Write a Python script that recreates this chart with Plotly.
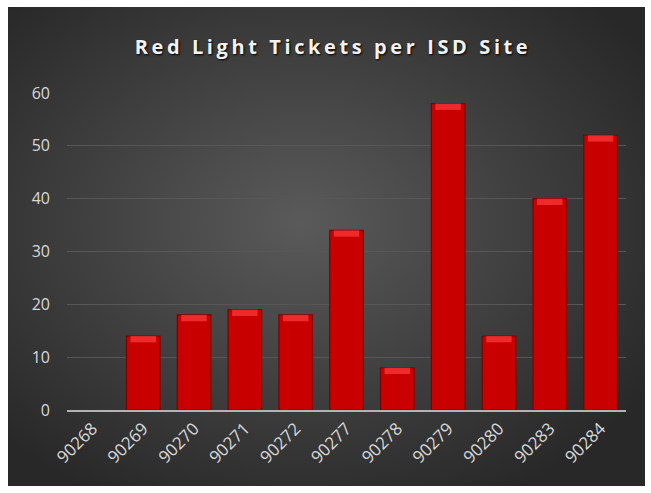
import base64
import plotly.graph_objects as go

categories = ["90268", "90269", "90270", "90271", "90272", "90277",
              "90278", "90279", "90280", "90283", "90284"]
tickets = [0, 14, 18, 19, 18, 34, 8, 58, 14, 40, 52]
y_ticks = [0, 10, 20, 30, 40, 50, 60]
title_text = "Red Light Tickets per ISD Site"

W, H = 651, 493
L, R, T, B = 67, 25, 93, 83
pw, ph = W - L - R, H - T - B

# chart-area background (radial gradient) as an SVG image
svg = """<svg xmlns='http://www.w3.org/2000/svg' width='638' height='479' preserveAspectRatio='none'>
<defs><radialGradient id='g' cx='0.46' cy='0.45' r='0.65'>
<stop offset='0' stop-color='#5a5a5a'/>
<stop offset='1' stop-color='#282828'/>
</radialGradient></defs>
<rect width='638' height='479' fill='url(#g)'/></svg>"""
src = "data:image/svg+xml;base64," + base64.b64encode(svg.encode()).decode()

bx0, bx1, by0, by1 = 8, 645, 7, 486
img_x = (bx0 - L) / pw
img_y = (H - B - by0) / ph
img_sx = (bx1 - bx0) / pw
img_sy = (by1 - by0) / ph

fig = go.Figure()
fig.add_trace(go.Bar(
    x=categories, y=tickets,
    marker=dict(color="#c80000",
                line=dict(color="#7e0000",
                          width=[0 if v == 0 else 1.2 for v in tickets])),
    width=0.66, hoverinfo="x+y",
))
# top bevel highlight
cap = [min(v, 1.2) for v in tickets]
fig.add_trace(go.Bar(
    x=categories, y=cap, base=[v - c for v, c in zip(tickets, cap)],
    marker=dict(color="rgba(255,60,60,0.7)", line=dict(width=0)),
    width=0.5, hoverinfo="skip",
))

fig.update_layout(
    width=W, height=H,
    margin=dict(l=L, r=R, t=T, b=B),
    paper_bgcolor="white",
    plot_bgcolor="rgba(0,0,0,0)",
    barmode="overlay",
    showlegend=False,
    font=dict(family="Open Sans, Liberation Sans, sans-serif", color="#d9d9d9"),
    title=dict(
        text=title_text, x=333 / W, xref="container", xanchor="center",
        y=(H - 47) / H, yanchor="middle",
        font=dict(size=20, color="#f2f2f2", weight="bold",
                  family="Open Sans, Liberation Sans, sans-serif",
                  shadow="1px 1px 2px #000"),
    ),
    images=[dict(source=src, xref="paper", yref="paper",
                 x=img_x, y=img_y, sizex=img_sx, sizey=img_sy,
                 xanchor="left", yanchor="top", sizing="stretch",
                 layer="below")],
    xaxis=dict(
        type="category", tickangle=-45, tickfont=dict(size=17, color="#d9d9d9"),
        showgrid=False, showline=True, linecolor="#b3b3b3", linewidth=2,
        ticks="", range=[-0.5, len(categories) - 0.5],
    ),
    yaxis=dict(
        range=[0, 60], tickvals=y_ticks, tickfont=dict(size=16, color="#d9d9d9"),
        showgrid=True, gridcolor="#575757", gridwidth=1.3,
        zeroline=False, showline=False, ticks="", ticklabelstandoff=16,
    ),
)

post = """
document.body.style.margin = '0';
document.querySelectorAll('.gtitle').forEach(function(e){
  e.style.letterSpacing = '3.6px';
});
"""
fig.write_html("out.html", post_script=post, config={"displayModeBar": False})
